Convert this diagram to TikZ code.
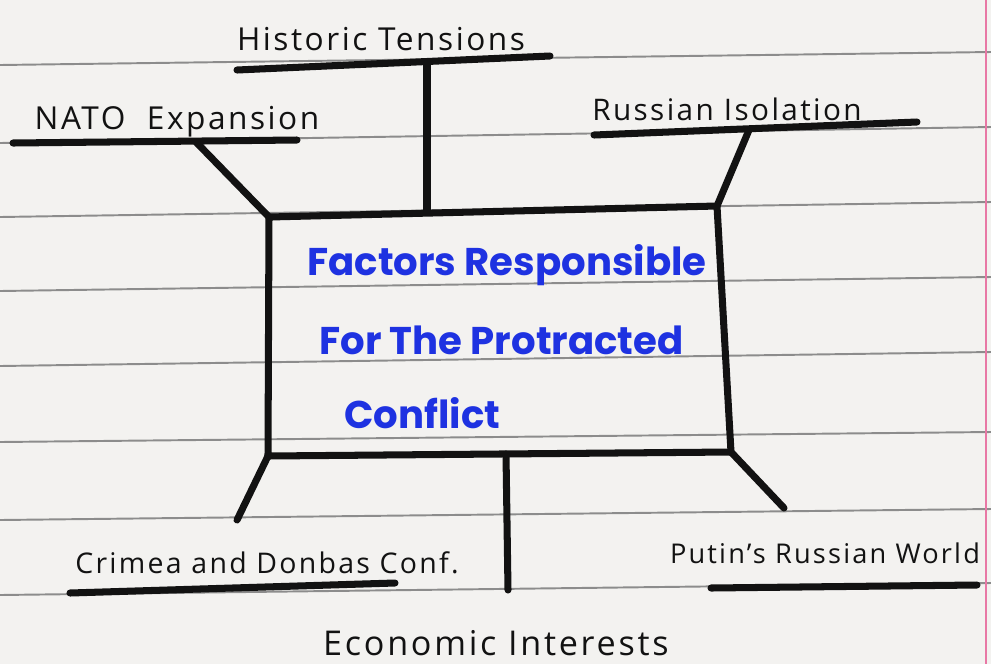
\documentclass[tikz,border=0pt]{standalone}
\usepackage{fontspec}
\setmainfont{Open Sans}
\newfontfamily\handfont{Open Sans}[LetterSpace=8]
\newfontfamily\markerfont{Poppins}
\usetikzlibrary{positioning,calc}
\definecolor{paper}{RGB}{243,242,240}
\definecolor{ruling}{RGB}{140,140,140}
\definecolor{marginred}{RGB}{232,120,165}
\definecolor{marker}{RGB}{30,50,225}
\definecolor{ink}{RGB}{18,18,18}

\begin{document}
\begin{tikzpicture}[x=0.02cm, y=-0.02cm,
    pen/.style={line width=4pt, draw=ink, line cap=round, line join=round},
    ruled/.style={draw=ruling, line width=1.1pt},
    factor/.style={font=\handfont\fontsize{18}{21}\selectfont, text=ink, inner sep=0pt},
    heading/.style={font=\markerfont\bfseries\fontsize{22}{26}\selectfont, text=marker, inner sep=0pt, anchor=west}]

    % Notebook page
    \fill[paper] (0,0) rectangle (991,664);
    \useasboundingbox (0,0) rectangle (991,664);
    \foreach \yl/\yr in {65/52, 143/127, 217/202, 291/277, 366/352, 442/432, 520/509, 595/583}
        \draw[ruled] (0,\yl) -- (991,\yr);
    \draw[marginred, line width=1.5pt] (986,0) -- (986,664);

    % Central box
    \coordinate (tl) at (269,217);
    \coordinate (tr) at (717,206);
    \coordinate (br) at (731,452);
    \coordinate (bl) at (268,456);
    \draw[pen] (tl) -- (tr) -- (br) -- (bl) -- cycle;

    \node[heading] (title1) at (307,265) {Factors Responsible};
    \node[heading] (title2) at (319,340) {For The Protracted};
    \node[heading] (title3) at (344,413) {Conflict};

    % Factors above the box
    \node[factor] (historic) at (381,39) {Historic Tensions};
    \coordinate (historic-l) at (237,70);
    \coordinate (historic-r) at (550,56);
    \coordinate (historic-j) at (427,63);
    \coordinate (box-top) at (427,211);
    \draw[pen] (historic-l) -- (historic-r);
    \draw[pen] (historic-j) -- (box-top);

    \node[factor] (nato) at (177,122) {NATO\ \ Expansion};
    \coordinate (nato-l) at (13,143);
    \coordinate (nato-r) at (297,140);
    \coordinate (nato-j) at (196,142);
    \draw[pen] (nato-l) -- (nato-r);
    \draw[pen] (nato-j) -- (tl);

    \node[factor, scale=0.94] (isolation) at (727,109) {Russian Isolation};
    \coordinate (isolation-l) at (594,135);
    \coordinate (isolation-r) at (917,122);
    \coordinate (isolation-j) at (749,130);
    \draw[pen] (isolation-l) -- (isolation-r);
    \draw[pen] (isolation-j) -- (tr);

    % Factors below the box
    \node[factor, scale=0.9] (crimea) at (267,563) {Crimea and Donbas Conf.};
    \coordinate (crimea-l) at (70,593);
    \coordinate (crimea-r) at (395,583);
    \coordinate (crimea-j) at (237,520);
    \draw[pen] (crimea-l) -- (crimea-r);
    \draw[pen] (bl) -- (crimea-j);

    \node[factor, scale=1.08] (economic) at (496,643) {Economic Interests};
    \coordinate (box-bottom) at (506,454);
    \coordinate (economic-j) at (508,590);
    \draw[pen] (box-bottom) -- (economic-j);

    \node[factor, scale=0.86] (putin) at (825,553) {Putin’s Russian World};
    \coordinate (putin-l) at (711,588);
    \coordinate (putin-r) at (977,585);
    \coordinate (putin-j) at (784,508);
    \draw[pen] (putin-l) -- (putin-r);
    \draw[pen] (br) -- (putin-j);
\end{tikzpicture}
\end{document}
